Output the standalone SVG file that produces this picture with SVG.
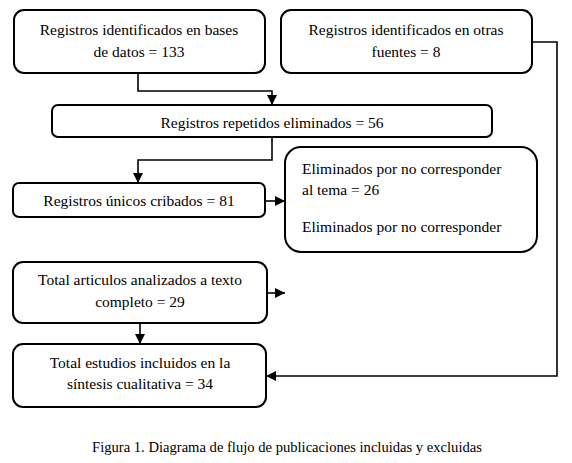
<svg xmlns="http://www.w3.org/2000/svg" width="572" height="463" viewBox="0 0 572 463" font-family="'Liberation Serif', 'Times New Roman', serif">
<style>
.box{fill:#fff;stroke:#000;stroke-width:2}
text{font-family:"Liberation Serif","Times New Roman",serif;fill:#000}
.t{font-size:15.5px}
.c{text-anchor:middle}
.ln{fill:none;stroke:#000;stroke-width:1.6}
.cap{font-size:14.6px;text-anchor:middle}
</style>
<defs>
<marker id="ah" viewBox="0 0 10 10" refX="10" refY="5" markerWidth="10" markerHeight="10" markerUnits="userSpaceOnUse" orient="auto">
<path d="M0,0 L10,5 L0,10 z" fill="#000"/>
</marker>
</defs>
<g id="connectors">
<polyline class="ln" points="138,73 138,91 272,91 272,105" marker-end="url(#ah)"/>
<polyline class="ln" points="272,137 272,160 138,160 138,183" marker-end="url(#ah)"/>
<line class="ln" x1="265" y1="201" x2="285" y2="201" marker-end="url(#ah)"/>
<line class="ln" x1="266" y1="293" x2="285" y2="293" marker-end="url(#ah)"/>
<line class="ln" x1="140" y1="323" x2="140" y2="344" marker-end="url(#ah)"/>
<polyline class="ln" points="532,42 557,42 557,376 266,376" marker-end="url(#ah)"/>
</g>
<g id="n1">
<rect class="box" x="14" y="10" width="251" height="63" rx="10"/>
<text class="t c" x="139" y="35">Registros identificados en bases</text>
<text class="t c" x="139" y="57">de datos = 133</text>
</g>
<g id="n2">
<rect class="box" x="281" y="10" width="251" height="63" rx="10"/>
<text class="t c" x="406" y="35">Registros identificados en otras</text>
<text class="t c" x="406" y="57">fuentes = 8</text>
</g>
<g id="n3">
<rect class="box" x="52" y="105" width="440" height="32" rx="6"/>
<text class="t c" x="272" y="128">Registros repetidos eliminados = 56</text>
</g>
<g id="n4">
<rect class="box" x="13" y="183" width="252" height="34" rx="6"/>
<text class="t c" x="139" y="206">Registros únicos cribados = 81</text>
</g>
<g id="n5">
<rect class="box" x="285" y="147" width="252" height="105" rx="16"/>
<text class="t" x="302" y="174">Eliminados por no corresponder</text>
<text class="t" x="302" y="195">al tema = 26</text>
<text class="t" x="302" y="232">Eliminados por no corresponder</text>
</g>
<g id="n6">
<rect class="box" x="13" y="262" width="254" height="61" rx="10"/>
<text class="t c" x="140" y="285">Total articulos analizados a texto</text>
<text class="t c" x="140" y="307">completo = 29</text>
</g>
<g id="n7">
<rect class="box" x="13" y="344" width="253" height="63" rx="10"/>
<text class="t c" x="140" y="368">Total estudios incluidos en la</text>
<text class="t c" x="140" y="389">síntesis cualitativa = 34</text>
</g>
<text class="cap" x="287" y="452">Figura 1. Diagrama de flujo de publicaciones incluidas y excluidas</text>
</svg>
